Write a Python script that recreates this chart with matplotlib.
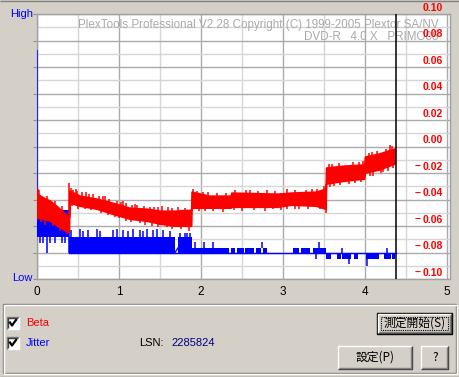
import numpy as np
import matplotlib
matplotlib.use('Agg')
import matplotlib.pyplot as plt
from matplotlib.patches import Rectangle

# ---------------- data ----------------
x_ticks = [0, 1, 2, 3, 4, 5]
beta_label_vals = [0.10, 0.08, 0.06, 0.04, 0.02, 0.00, -0.02, -0.04, -0.06, -0.08, -0.10]

# Beta: noisy band given as upper / lower envelope
beta_x  = [0.00, 0.08, 0.16, 0.25, 0.33, 0.39, 0.395, 0.52, 0.73, 0.92, 1.13, 1.34, 1.50, 1.68, 1.88,
           1.885, 2.10, 2.36, 2.37, 2.93, 3.10, 3.40, 3.52, 3.525, 3.75, 3.99, 4.00, 4.17, 4.36]
beta_hi = [-0.0356, -0.0386, -0.0409, -0.0455, -0.0500, -0.0530, -0.0333, -0.0371, -0.0394, -0.0424,
           -0.0462, -0.0470, -0.0485, -0.0485, -0.0477, -0.0341, -0.0371, -0.0371, -0.0348, -0.0356,
           -0.0348, -0.0341, -0.0318, -0.0159, -0.0144, -0.0136, -0.0076, -0.0053, -0.0015]
beta_lo = [-0.0538, -0.0545, -0.0561, -0.0598, -0.0629, -0.0644, -0.0424, -0.0447, -0.0470, -0.0508,
           -0.0545, -0.0561, -0.0583, -0.0598, -0.0598, -0.0462, -0.0462, -0.0462, -0.0455, -0.0455,
           -0.0439, -0.0447, -0.0470, -0.0280, -0.0258, -0.0242, -0.0197, -0.0174, -0.0129]
# noise spikes sticking out of the band (x, value)
beta_spike_x = [0.01, 0.03, 0.12, 0.22, 0.30, 0.39, 0.42, 0.44, 0.47, 0.49, 0.55, 0.60, 0.63, 0.68,
                0.76, 0.80, 0.83, 0.88, 0.97, 1.02, 1.05, 1.09, 1.16, 1.20, 1.22, 1.30, 1.38, 1.43,
                1.47, 1.53, 1.60, 1.65, 1.72, 1.80, 1.90, 1.95, 2.02, 2.08, 2.20, 2.30, 2.42, 2.55,
                2.60, 2.70, 2.80, 2.90, 3.05, 3.15, 3.28, 3.35, 3.42, 3.50, 3.56, 3.60, 3.68, 3.85,
                3.93, 3.97, 4.05, 4.08, 4.15, 4.25, 4.30, 4.33,
                0.05, 0.10, 0.20, 0.28, 0.36, 0.43, 0.50, 0.58, 0.66, 0.78, 0.86, 0.95, 1.00, 1.08,
                1.15, 1.25, 1.32, 1.40, 1.48, 1.58, 1.65, 1.75, 1.85, 1.97, 2.05, 2.15, 2.27, 2.40,
                2.50, 2.65, 2.78, 2.88, 2.98, 3.05, 3.15, 3.20, 3.30, 3.45, 3.52, 3.57, 3.62, 3.70,
                3.80, 3.88, 3.95, 4.06, 4.10, 4.20, 4.22, 4.28, 4.34]
beta_spike_y = [-0.0318, -0.0330, -0.0370, -0.0410, -0.0450, -0.0273, -0.0310, -0.0330, -0.0320, -0.0335,
                -0.0345, -0.0345, -0.0360, -0.0360, -0.0375, -0.0370, -0.0370, -0.0395, -0.0410, -0.0420,
                -0.0410, -0.0430, -0.0440, -0.0435, -0.0440, -0.0450, -0.0455, -0.0455, -0.0460, -0.0450,
                -0.0460, -0.0465, -0.0460, -0.0465, -0.0318, -0.0335, -0.0340, -0.0345, -0.0350, -0.0350,
                -0.0330, -0.0330, -0.0330, -0.0335, -0.0330, -0.0335, -0.0320, -0.0325, -0.0325, -0.0320,
                -0.0320, -0.0300, -0.0135, -0.0130, -0.0125, -0.0120, -0.0115, -0.0110, -0.0050, -0.0040,
                -0.0035, -0.0020, 0.0015, 0.0005,
                -0.0570, -0.0590, -0.0600, -0.0640, -0.0660, -0.0450, -0.0470, -0.0475, -0.0480, -0.0500,
                -0.0520, -0.0530, -0.0540, -0.0560, -0.0570, -0.0580, -0.0590, -0.0600, -0.0610, -0.0610,
                -0.0620, -0.0625, -0.0636, -0.0490, -0.0490, -0.0490, -0.0495, -0.0480, -0.0485, -0.0480,
                -0.0485, -0.0475, -0.0480, -0.0470, -0.0475, -0.0470, -0.0470, -0.0475, -0.0500, -0.0305,
                -0.0300, -0.0290, -0.0280, -0.0275, -0.0270, -0.0225, -0.0220, -0.0200, -0.0190, -0.0185,
                -0.0160]

# Jitter (relative scale, Low=0 .. High=20): dense blocks (x0, x1, lo, hi)
jit_x0 = [0.00, 0.39, 1.72, 1.89, 2.36, 2.44, 2.54, 2.67, 2.75, 3.12, 3.22, 3.37,
          3.53, 3.66, 3.72, 3.87, 4.01, 4.23, 4.33]
jit_x1 = [0.39, 1.68, 1.89, 2.34, 2.42, 2.52, 2.65, 2.73, 2.80, 3.19, 3.33, 3.53,
          3.59, 3.71, 3.83, 3.91, 4.17, 4.32, 4.37]
jit_lo = [3.18, 1.97, 1.97, 1.97, 1.97, 1.97, 1.97, 1.97, 1.97, 1.97, 1.97, 1.97,
          1.52, 1.52, 1.52, 1.52, 1.52, 1.52, 1.52]
jit_hi = [5.23, 3.18, 3.18, 2.35, 2.35, 2.35, 2.35, 2.35, 2.35, 2.35, 2.35, 2.35,
          1.97, 1.97, 1.97, 1.97, 1.97, 1.97, 1.97]
# Jitter single spikes (x, lo, hi)
jit_sx = [0.005, 0.04, 0.07, 0.12, 0.16, 0.22, 0.30, 0.34, 0.395,
          0.42, 0.52, 0.56, 0.62, 0.73, 0.77, 0.93, 0.97, 1.05, 1.11, 1.17, 1.25, 1.29, 1.34, 1.41,
          1.46, 1.54, 1.62, 1.74, 1.80, 1.83, 1.87, 1.93, 2.04, 2.15, 2.74, 3.40, 3.44,
          3.81, 4.02, 3.72, 4.27]
jit_slo = [3.18, 2.73, 2.73, 1.97, 2.73, 2.73, 2.73, 2.73, 1.97,
           3.18, 3.18, 3.18, 3.18, 3.18, 3.18, 3.18, 3.18, 3.18, 3.18, 3.18, 3.18, 3.18, 3.18, 3.18,
           3.18, 3.18, 3.18, 3.18, 3.18, 3.18, 3.18, 2.35, 2.35, 2.35, 2.35, 1.52, 2.35,
           1.14, 0.98, 1.97, 1.97]
jit_shi = [17.3, 3.18, 3.18, 3.18, 3.18, 3.18, 3.18, 3.18, 3.48,
           3.70, 3.75, 3.65, 3.70, 3.79, 3.65, 3.70, 3.75, 3.70, 3.65, 3.79, 3.70, 3.65, 3.75, 3.70,
           3.79, 3.70, 3.65, 3.48, 3.48, 3.48, 3.48, 2.80, 2.80, 2.80, 2.80, 1.97, 2.80,
           1.97, 1.97, 2.35, 2.35]
jit_base = 1.97
jit_gap_x = [1.68, 1.72]
jit_gap_y = [1.97, 2.35]

end_marker_x = 4.375
lsn_value = "2285824"

# ---------------- style ----------------
BG = '#D4D0C8'
W, H = 460, 377
fig = plt.figure(figsize=(W / 100, H / 100), dpi=100, facecolor=BG)

# UI overlay in pixel coordinates
ui = fig.add_axes([0, 0, 1, 1], zorder=0)
ui.set_xlim(0, W)
ui.set_ylim(H, 0)
ui.axis('off')
ui.set_facecolor(BG)

ax = fig.add_axes([37 / W, (H - 279) / H, 413 / W, 265 / H], zorder=2)
ax.set_facecolor('white')
ax.set_xlim(0, 413 / 82)
ax.set_ylim(-0.10, 0.10)

# grid
for i in range(0, 11):
    xv = i * 0.5
    ax.axvline(xv, color='#ABABAB' if i % 2 == 0 else '#D6D6D6', lw=1, zorder=0.5)
for k in range(-10, 11):
    yv = k * 0.01
    ax.axhline(yv, color='#ABABAB' if k % 2 == 0 else '#D6D6D6', lw=1, zorder=0.5)
for s in ax.spines.values():
    s.set_color('#A0A0A0')
    s.set_linewidth(1)

ax.set_xticks(x_ticks)
ax.set_xticklabels([str(t) for t in x_ticks], fontsize=8.5, family='Liberation Sans')
ax.set_yticks(beta_label_vals)
ax.set_yticklabels([])
ax.tick_params(axis='x', length=0, pad=5)
ax.tick_params(axis='y', length=3, color='#909090', left=True, right=True, direction='out')

# watermark
ax.text(4.9, 0.1 - 11 / 1320, 'PlexTools Professional V2.28 Copyright (C) 1999-2005 Plextor SA/NV',
        ha='right', va='center', color='#AAAAAA', fontsize=8.4, family='Liberation Sans', zorder=1)
ax.text(4.9, 0.1 - 23 / 1320, 'DVD-R   4.0 X   PRIMO08',
        ha='right', va='center', color='#AAAAAA', fontsize=8.4, family='Liberation Sans', zorder=1)

# jitter (twin axis)
ax2 = ax.twinx()
ax2.set_ylim(0, 20)
ax2.set_yticks([])
for s in ax2.spines.values():
    s.set_visible(False)
ax2.plot([0.39, end_marker_x], [jit_base, jit_base], color='#0000FF', lw=1, zorder=3)
ax2.bar(jit_x0, np.array(jit_hi) - np.array(jit_lo), bottom=jit_lo,
        width=np.array(jit_x1) - np.array(jit_x0), align='edge', color='#0000FF', lw=0, zorder=3)
ax2.vlines(jit_sx, jit_slo, jit_shi, color='#0000FF', lw=1.1, zorder=3)
ax2.plot(jit_gap_x, jit_gap_y, color='#0000FF', lw=1, zorder=3)

# beta (drawn on top)
ax3 = ax.twinx()
ax3.set_ylim(-0.10, 0.10)
ax3.set_yticks([])
for s in ax3.spines.values():
    s.set_visible(False)
ax3.fill_between(beta_x, beta_lo, beta_hi, color='#FF0000', lw=1.2, edgecolor='#FF0000', zorder=4)
mid = (np.array(beta_hi) + np.array(beta_lo)) / 2
ax3.vlines(beta_spike_x, np.interp(beta_spike_x, beta_x, mid), beta_spike_y, color='#FF0000', lw=1.1, zorder=4)
ax3.axvline(end_marker_x, color='black', lw=1.1, zorder=5)

# right beta labels
for v in beta_label_vals:
    yv = v + 6 / 1320
    ax3.text(4.707, yv, f'{abs(v):.2f}', ha='left', va='center', color='#FF0000',
             fontsize=7.5, fontweight='bold', family='Liberation Sans', zorder=6)
    if v < 0:
        ax3.text(4.68, yv, '\u2013', ha='right', va='center', color='#FF0000',
                 fontsize=7.5, fontweight='bold', family='Liberation Sans', zorder=6)

# High / Low
ui.text(33, 14, 'High', ha='right', va='center', color='#0000FF', fontsize=8, family='Liberation Sans')
ui.text(33, 278, 'Low', ha='right', va='center', color='#0000FF', fontsize=8, family='Liberation Sans')


def line(xs, ys, c):
    ui.plot(xs, ys, color=c, lw=1, solid_capstyle='butt')


# group box (etched)
gx0, gy0, gx1, gy1 = 3.5, 303.5, 456.5, 372.5
ui.add_patch(Rectangle((gx0, gy0), gx1 - gx0, gy1 - gy0, fill=False, ec='#808080', lw=1))
ui.add_patch(Rectangle((gx0 + 1, gy0 + 1), gx1 - gx0, gy1 - gy0, fill=False, ec='white', lw=1))


def checkbox(x, y):
    ui.add_patch(Rectangle((x, y), 12, 12, fc='white', ec='none'))
    line([x, x, x + 12], [y + 12, y, y], '#808080')
    line([x + 1, x + 1, x + 11], [y + 11, y + 1, y + 1], '#404040')
    line([x + 1, x + 12, x + 12], [y + 12, y + 12, y], 'white')
    ui.plot([x + 3, x + 5, x + 9], [y + 5.5, y + 8.5, y + 3], color='black', lw=1.6)


checkbox(7, 317)
checkbox(7, 337)
ui.text(26, 322.5, 'Beta', ha='left', va='center', color='#FF0000', fontsize=8, family='Liberation Sans')
ui.text(26, 343, 'Jitter', ha='left', va='center', color='#0000FF', fontsize=8, family='Liberation Sans')
ui.text(139, 343, 'LSN:', ha='left', va='center', color='black', fontsize=8, family='Liberation Sans')
ui.text(171, 343, lsn_value, ha='left', va='center', color='#000080', fontsize=8, family='Liberation Sans')

JP = ['Noto Sans CJK JP', 'DejaVu Sans']


def button(x0, y0, x1, y1, label, focused=False):
    ui.add_patch(Rectangle((x0, y0), x1 - x0, y1 - y0, fc=BG, ec='none'))
    if focused:
        ui.add_patch(Rectangle((x0, y0), x1 - x0, y1 - y0, fill=False, ec='black', lw=1))
        x0 += 1; y0 += 1; x1 -= 1; y1 -= 1
    line([x0, x0, x1], [y1, y0, y0], 'white')
    line([x0, x1, x1], [y1, y1, y0], '#404040')
    line([x0 + 1, x1 - 1, x1 - 1], [y1 - 1, y1 - 1, y0 + 1], '#808080')
    if focused:
        ui.add_patch(Rectangle((x0 + 3, y0 + 3), x1 - x0 - 6, y1 - y0 - 6, fill=False,
                               ec='black', lw=0.8, ls=(0, (1, 1))))
    ui.text((x0 + x1) / 2, (y0 + y1) / 2 + 0.5, label, ha='center', va='center', color='black',
            fontsize=8.5, family=JP)


button(377.5, 312.5, 452.5, 333.5, '測定開始(S)', focused=True)
button(338.5, 345.5, 412.5, 368.5, '設定(P)')
button(421.5, 345.5, 448.5, 368.5, '?')

# window frame lines
line([0, W], [0.5, 0.5], '#808080')
line([0, W], [376.5, 376.5], '#808080')

fig.savefig('out.png', dpi=100, facecolor=BG)
